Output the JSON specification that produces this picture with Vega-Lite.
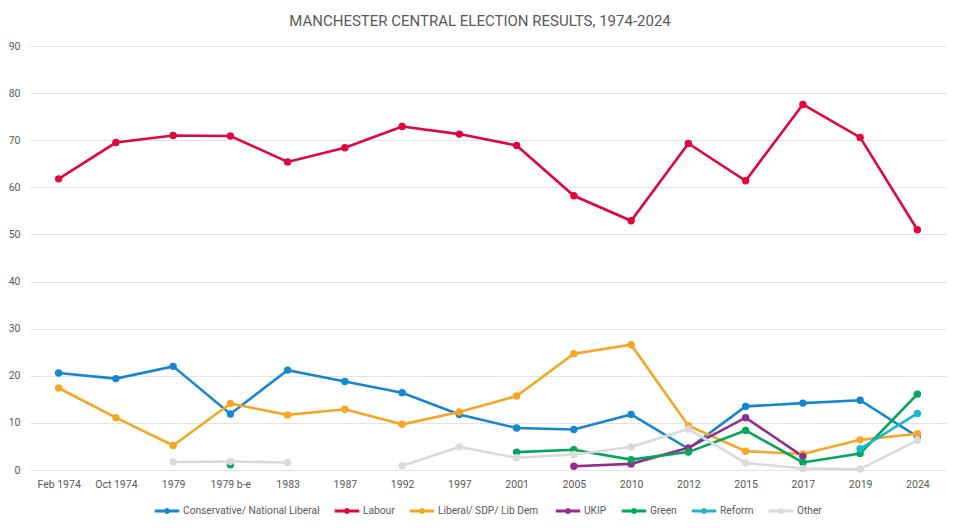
{
  "$schema": "https://vega.github.io/schema/vega-lite/v6.json",
  "autosize": {"type": "none"},
  "width": 916,
  "height": 424,
  "padding": {"left": 30, "top": 46, "right": 14, "bottom": 58},
  "background": "white",
  "title": {
    "text": "MANCHESTER CENTRAL ELECTION RESULTS, 1974-2024",
    "font": "Roboto",
    "fontSize": 15,
    "fontWeight": "normal",
    "color": "#595959",
    "anchor": "middle",
    "offset": 12,
    "dx": -8
  },
  "config": {
    "view": {"stroke": null},
    "font": "Roboto"
  },
  "data": {
    "values": [
      {"party": "Conservative/ National Liberal", "election": "Feb 1974", "i": 1, "share": 20.6},
      {"party": "Conservative/ National Liberal", "election": "Oct 1974", "i": 2, "share": 19.4},
      {"party": "Conservative/ National Liberal", "election": "1979", "i": 3, "share": 22.0},
      {"party": "Conservative/ National Liberal", "election": "1979 b-e", "i": 4, "share": 11.9},
      {"party": "Conservative/ National Liberal", "election": "1983", "i": 5, "share": 21.2},
      {"party": "Conservative/ National Liberal", "election": "1987", "i": 6, "share": 18.8},
      {"party": "Conservative/ National Liberal", "election": "1992", "i": 7, "share": 16.4},
      {"party": "Conservative/ National Liberal", "election": "1997", "i": 8, "share": 11.8},
      {"party": "Conservative/ National Liberal", "election": "2001", "i": 9, "share": 8.9},
      {"party": "Conservative/ National Liberal", "election": "2005", "i": 10, "share": 8.6},
      {"party": "Conservative/ National Liberal", "election": "2010", "i": 11, "share": 11.8},
      {"party": "Conservative/ National Liberal", "election": "2012", "i": 12, "share": 4.5},
      {"party": "Conservative/ National Liberal", "election": "2015", "i": 13, "share": 13.5},
      {"party": "Conservative/ National Liberal", "election": "2017", "i": 14, "share": 14.2},
      {"party": "Conservative/ National Liberal", "election": "2019", "i": 15, "share": 14.8},
      {"party": "Conservative/ National Liberal", "election": "2024", "i": 16, "share": 7.1},

      {"party": "Labour", "election": "Feb 1974", "i": 1, "share": 61.8},
      {"party": "Labour", "election": "Oct 1974", "i": 2, "share": 69.5},
      {"party": "Labour", "election": "1979", "i": 3, "share": 71.0},
      {"party": "Labour", "election": "1979 b-e", "i": 4, "share": 70.9},
      {"party": "Labour", "election": "1983", "i": 5, "share": 65.4},
      {"party": "Labour", "election": "1987", "i": 6, "share": 68.4},
      {"party": "Labour", "election": "1992", "i": 7, "share": 72.9},
      {"party": "Labour", "election": "1997", "i": 8, "share": 71.3},
      {"party": "Labour", "election": "2001", "i": 9, "share": 68.9},
      {"party": "Labour", "election": "2005", "i": 10, "share": 58.2},
      {"party": "Labour", "election": "2010", "i": 11, "share": 52.9},
      {"party": "Labour", "election": "2012", "i": 12, "share": 69.3},
      {"party": "Labour", "election": "2015", "i": 13, "share": 61.4},
      {"party": "Labour", "election": "2017", "i": 14, "share": 77.6},
      {"party": "Labour", "election": "2019", "i": 15, "share": 70.6},
      {"party": "Labour", "election": "2024", "i": 16, "share": 51.0},

      {"party": "Liberal/ SDP/ Lib  Dem", "election": "Feb 1974", "i": 1, "share": 17.4},
      {"party": "Liberal/ SDP/ Lib  Dem", "election": "Oct 1974", "i": 2, "share": 11.1},
      {"party": "Liberal/ SDP/ Lib  Dem", "election": "1979", "i": 3, "share": 5.2},
      {"party": "Liberal/ SDP/ Lib  Dem", "election": "1979 b-e", "i": 4, "share": 14.1},
      {"party": "Liberal/ SDP/ Lib  Dem", "election": "1983", "i": 5, "share": 11.7},
      {"party": "Liberal/ SDP/ Lib  Dem", "election": "1987", "i": 6, "share": 12.9},
      {"party": "Liberal/ SDP/ Lib  Dem", "election": "1992", "i": 7, "share": 9.7},
      {"party": "Liberal/ SDP/ Lib  Dem", "election": "1997", "i": 8, "share": 12.3},
      {"party": "Liberal/ SDP/ Lib  Dem", "election": "2001", "i": 9, "share": 15.7},
      {"party": "Liberal/ SDP/ Lib  Dem", "election": "2005", "i": 10, "share": 24.7},
      {"party": "Liberal/ SDP/ Lib  Dem", "election": "2010", "i": 11, "share": 26.6},
      {"party": "Liberal/ SDP/ Lib  Dem", "election": "2012", "i": 12, "share": 9.4},
      {"party": "Liberal/ SDP/ Lib  Dem", "election": "2015", "i": 13, "share": 4.0},
      {"party": "Liberal/ SDP/ Lib  Dem", "election": "2017", "i": 14, "share": 3.4},
      {"party": "Liberal/ SDP/ Lib  Dem", "election": "2019", "i": 15, "share": 6.4},
      {"party": "Liberal/ SDP/ Lib  Dem", "election": "2024", "i": 16, "share": 7.7},

      {"party": "UKIP", "election": "2005", "i": 10, "share": 0.8},
      {"party": "UKIP", "election": "2010", "i": 11, "share": 1.3},
      {"party": "UKIP", "election": "2012", "i": 12, "share": 4.7},
      {"party": "UKIP", "election": "2015", "i": 13, "share": 11.1},
      {"party": "UKIP", "election": "2017", "i": 14, "share": 2.9},

      {"party": "Green", "election": "1979 b-e", "i": 4, "share": 1.1},
      {"party": "Green", "election": "1983", "i": 5, "share": null},
      {"party": "Green", "election": "2001", "i": 9, "share": 3.8},
      {"party": "Green", "election": "2005", "i": 10, "share": 4.3},
      {"party": "Green", "election": "2010", "i": 11, "share": 2.2},
      {"party": "Green", "election": "2012", "i": 12, "share": 3.8},
      {"party": "Green", "election": "2015", "i": 13, "share": 8.4},
      {"party": "Green", "election": "2017", "i": 14, "share": 1.6},
      {"party": "Green", "election": "2019", "i": 15, "share": 3.5},
      {"party": "Green", "election": "2024", "i": 16, "share": 16.1},

      {"party": "Reform", "election": "2019", "i": 15, "share": 4.5},
      {"party": "Reform", "election": "2024", "i": 16, "share": 12.0},

      {"party": "Other", "election": "1979", "i": 3, "share": 1.7},
      {"party": "Other", "election": "1979 b-e", "i": 4, "share": 1.8},
      {"party": "Other", "election": "1983", "i": 5, "share": 1.6},
      {"party": "Other", "election": "1987", "i": 6, "share": null},
      {"party": "Other", "election": "1992", "i": 7, "share": 0.9},
      {"party": "Other", "election": "1997", "i": 8, "share": 4.9},
      {"party": "Other", "election": "2001", "i": 9, "share": 2.6},
      {"party": "Other", "election": "2005", "i": 10, "share": 3.3},
      {"party": "Other", "election": "2010", "i": 11, "share": 4.9},
      {"party": "Other", "election": "2012", "i": 12, "share": 8.7},
      {"party": "Other", "election": "2015", "i": 13, "share": 1.5},
      {"party": "Other", "election": "2017", "i": 14, "share": 0.3},
      {"party": "Other", "election": "2019", "i": 15, "share": 0.2},
      {"party": "Other", "election": "2024", "i": 16, "share": 6.3}
    ]
  },
  "mark": {
    "type": "line",
    "strokeWidth": 2.6,
    "invalid": "break-paths-show-domains",
    "point": {"size": 55, "filled": true}
  },
  "encoding": {
    "x": {
      "field": "election",
      "type": "ordinal",
      "sort": ["Feb 1974", "Oct 1974", "1979", "1979 b-e", "1983", "1987", "1992", "1997", "2001", "2005", "2010", "2012", "2015", "2017", "2019", "2024"],
      "scale": {"paddingOuter": 0.5},
      "axis": {
        "title": null,
        "labelAngle": 0,
        "ticks": false,
        "domain": false,
        "grid": false,
        "labelPadding": 9,
        "labelFontSize": 10.5,
        "labelColor": "#595959"
      }
    },
    "y": {
      "field": "share",
      "type": "quantitative",
      "scale": {"domain": [0, 90], "nice": false},
      "axis": {
        "title": null,
        "values": [0, 10, 20, 30, 40, 50, 60, 70, 80, 90],
        "ticks": false,
        "domain": false,
        "gridColor": "#e3e3e3",
        "labelPadding": 10,
        "labelFontSize": 10.5,
        "labelColor": "#595959"
      }
    },
    "color": {
      "field": "party",
      "type": "nominal",
      "scale": {
        "domain": ["Conservative/ National Liberal", "Labour", "Liberal/ SDP/ Lib  Dem", "UKIP", "Green", "Reform", "Other"],
        "range": ["#1487D0", "#E2063F", "#F5A623", "#932C8E", "#03A65A", "#1DB5CF", "#DADADA"]
      },
      "legend": {
        "title": null,
        "orient": "none",
        "legendX": 123,
        "legendY": 451,
        "direction": "horizontal",
        "gridAlign": "none",
        "symbolType": "M-1,0L1,0M-0.12,0A0.12,0.12,0,1,1,0.12,0A0.12,0.12,0,1,1,-0.12,0",
        "symbolSize": 600,
        "symbolStrokeWidth": 3,
        "columnPadding": 8,
        "labelOffset": 2,
        "labelFontSize": 10.2,
        "labelColor": "#595959",
        "labelLimit": 300
      }
    },
    "order": {"field": "i", "type": "quantitative"}
  }
}
